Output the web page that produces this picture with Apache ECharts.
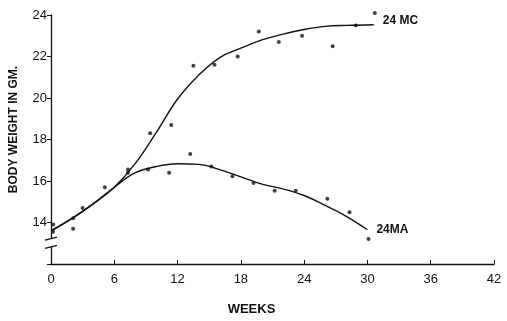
<!DOCTYPE html>
<html><head><meta charset="utf-8">
<script src="https://cdn.jsdelivr.net/npm/echarts@6/dist/echarts.min.js"></script>
<style>html,body{margin:0;padding:0;background:#fff}#c{width:507px;height:321px}</style>
</head><body><div id="c"></div>
<script>
// Tick labels
var xTicks = [0, 6, 12, 18, 24, 30, 36, 42];
var yTicks = [14, 16, 18, 20, 22, 24];
// Observed points [week, body weight g]
var mcPoints = [[0.2,13.9],[2.1,14.2],[3.0,14.7],[5.1,15.7],[7.3,16.55],[9.4,18.3],[11.4,18.7],[13.5,21.55],[15.5,21.6],[17.7,22.0],[19.7,23.2],[21.6,22.7],[23.8,23.0],[26.7,22.5],[28.9,23.5],[30.7,24.1]];
var maPoints = [[0.2,13.55],[2.1,13.7],[7.3,16.4],[9.2,16.55],[11.2,16.4],[13.2,17.3],[15.2,16.7],[17.2,16.23],[19.2,15.9],[21.2,15.53],[23.2,15.53],[26.2,15.15],[28.3,14.5],[30.1,13.2]];
// Fitted curves
var mcCurve = [[0,13.6],[2,14.2],[4,14.9],[6,15.7],[8,16.85],[10,18.35],[12,19.95],[14,21.1],[16,21.95],[18,22.4],[20,22.8],[22,23.08],[24,23.3],[26,23.45],[28,23.5],[30.6,23.53]];
var maCurve = [[0,13.6],[2,14.2],[4,14.9],[6,15.7],[8,16.4],[10,16.7],[12,16.83],[14,16.8],[16,16.55],[18,16.2],[20,15.85],[22,15.62],[24,15.3],[26,14.82],[28,14.3],[30,13.65]];
var seriesNames = ['24 MC', '24MA'];

var FONT = '"Liberation Sans", Arial, sans-serif';
var chart = echarts.init(document.getElementById('c'), null, {renderer: 'canvas'});
var option = {
  animation: false,
  backgroundColor: '#fff',
  grid: {left: 51, right: 13, top: 15, bottom: 51, containLabel: false},
  xAxis: {
    type: 'value', min: 0, max: 42, interval: 6,
    name: 'WEEKS', nameLocation: 'middle', nameGap: 39,
    nameTextStyle: {fontFamily: FONT, fontWeight: 'bold', fontSize: 13, color: '#111', padding: [0, 42, 0, 0]},
    axisLine: {lineStyle: {color: '#111', width: 1.3}},
    axisTick: {inside: true, length: 4, lineStyle: {color: '#111'}},
    axisLabel: {fontFamily: FONT, fontSize: 13, color: '#111', margin: 9,
      formatter: function (v) { return xTicks.indexOf(v) >= 0 ? String(v) : ''; }},
    splitLine: {show: false}
  },
  yAxis: {
    type: 'value', min: 12, max: 24, interval: 2,
    name: 'BODY WEIGHT IN GM.', nameLocation: 'middle', nameGap: 31,
    nameTextStyle: {fontFamily: FONT, fontWeight: 'bold', fontSize: 12, color: '#111', padding: [0, 0, 0, 20]},
    axisLine: {lineStyle: {color: '#111', width: 1.3}},
    axisTick: {inside: false, length: 4, lineStyle: {color: '#111'}},
    axisLabel: {fontFamily: FONT, fontSize: 13, color: '#111', margin: 4,
      formatter: function (v) { return yTicks.indexOf(v) >= 0 ? String(v) : ''; }},
    splitLine: {show: false}
  },
  series: [
    {type: 'line', data: mcCurve, smooth: 0.4, symbol: 'none', clip: false,
      lineStyle: {color: '#111', width: 1.4},
      endLabel: {show: true, formatter: seriesNames[0], fontFamily: FONT, fontWeight: 'bold', fontSize: 12, color: '#111', distance: 9, offset: [0, -4]}},
    {type: 'line', data: maCurve, smooth: 0.4, symbol: 'none', clip: false,
      lineStyle: {color: '#111', width: 1.4},
      endLabel: {show: true, formatter: seriesNames[1], fontFamily: FONT, fontWeight: 'bold', fontSize: 12, color: '#111', distance: 9, offset: [0, 0]}},
    {type: 'scatter', data: mcPoints, symbolSize: 4, clip: false, itemStyle: {color: '#111'}},
    {type: 'scatter', data: maPoints, symbolSize: 4, clip: false, itemStyle: {color: '#111'}}
  ]
};
chart.setOption(option);
// axis break marks near 13
var pA = chart.convertToPixel({gridIndex: 0}, [0, 13.25]);
var pB = chart.convertToPixel({gridIndex: 0}, [0, 12.85]);
chart.setOption({graphic: [
  {type: 'rect', shape: {x: pA[0] - 3, y: pA[1], width: 6, height: pB[1] - pA[1]}, style: {fill: '#fff'}, z: 100},
  {type: 'line', shape: {x1: pA[0] - 6, y1: pA[1] + 2, x2: pA[0] + 6, y2: pA[1] - 1}, style: {stroke: '#111', lineWidth: 1.3}, z: 101},
  {type: 'line', shape: {x1: pB[0] - 6, y1: pB[1] + 2, x2: pB[0] + 6, y2: pB[1] - 1}, style: {stroke: '#111', lineWidth: 1.3}, z: 101}
]});
</script></body></html>
